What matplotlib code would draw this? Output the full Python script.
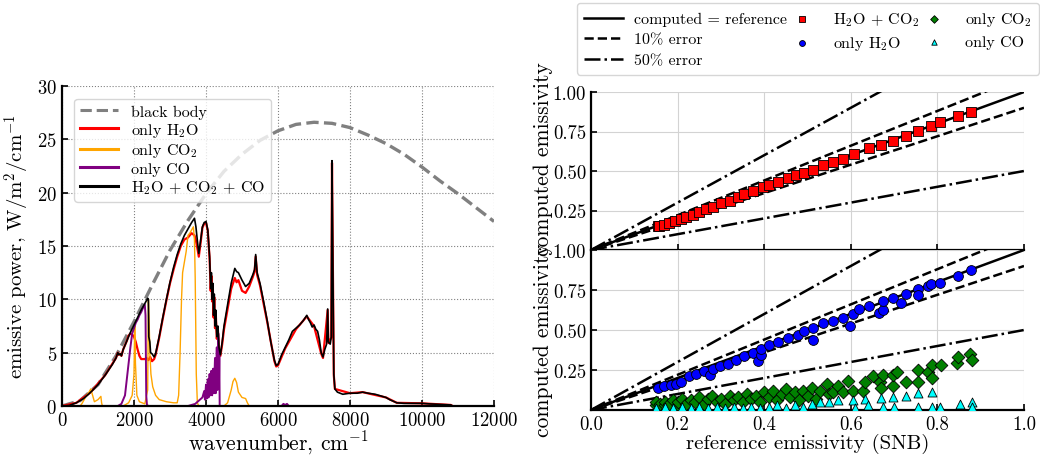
import matplotlib
matplotlib.use('Agg')
import matplotlib.pyplot as plt
import numpy as np

plt.rcParams['font.family'] = 'serif'
plt.rcParams['font.serif'] = ['cmr10']
plt.rcParams['mathtext.fontset'] = 'cm'
plt.rcParams['axes.formatter.use_mathtext'] = True
plt.rcParams['axes.unicode_minus'] = False

# --- left panel: spectra ---
WN_BB = [0, 500, 1000, 1500, 2000, 2500, 3000, 3500, 4000, 4500, 5000, 5500, 6000,
         6500, 7000, 7500, 8000, 8500, 9000, 9500, 10000, 10500, 11000, 11500, 12000]
BLACK_BODY = [0, 0.5, 2.0, 4.7, 7.9, 11.3, 14.6, 17.4, 19.9, 22.0, 23.6, 24.9, 25.8,
              26.4, 26.6, 26.5, 26.1, 25.4, 24.6, 23.6, 22.4, 21.1, 19.9, 18.6, 17.3]

WN_TOT = [0, 200, 400, 600, 800, 1000, 1200, 1400, 1500, 1550, 1580, 1620, 1650, 1700,
          1800, 1900, 2000, 2100, 2200, 2300, 2380, 2400, 2410, 2440, 2460, 2500, 2560,
          2600, 2700, 2800, 2900, 3000, 3100, 3200, 3300, 3400, 3500, 3600, 3680, 3720,
          3760, 3800, 3850, 3900, 3950, 4000, 4050, 4100, 4130, 4150, 4170, 4190, 4210,
          4230, 4250, 4270, 4300, 4330, 4360, 4400, 4450, 4500, 4600, 4700, 4800, 4850,
          4900, 5000, 5100, 5200, 5300, 5350, 5380, 5420, 5500, 5600, 5700, 5800, 5900,
          5950, 6000, 6100, 6200, 6300, 6400, 6500, 6600, 6700, 6800, 6850, 6900, 6950,
          7000, 7050, 7100, 7150, 7200, 7250, 7300, 7350, 7380, 7400, 7450, 7480, 7500,
          7520, 7550, 7580, 7650, 7800, 8000, 8200, 8350, 8500, 8700, 8800, 9000, 9100,
          9300, 9500, 9800, 10000, 10200, 10500, 10800, 10850]
TOTAL = [0, 0.05, 0.3, 0.7, 1.3, 2.0, 2.9, 3.9, 4.5, 5.0, 4.8, 4.9, 4.7, 5.3,
         6.1, 6.9, 7.6, 8.3, 9.0, 9.6, 10.1, 10.0, 6.5, 6.0, 5.0, 4.9, 4.6,
         4.9, 6.5, 8.3, 10.0, 11.6, 13.0, 14.2, 15.2, 16.0, 16.6, 17.2, 17.6, 16.8,
         15.5, 14.3, 15.5, 16.8, 17.2, 17.3, 16.5, 14.0, 11.0, 12.5, 10.0, 11.5, 8.5,
         10.5, 7.5, 9.0, 6.5, 7.5, 5.5, 4.8, 6.0, 7.5, 9.5, 11.5, 12.9, 12.6,
         12.5, 11.8, 11.2, 11.5, 12.3, 12.8, 14.2, 12.5, 11.5, 9.8, 8.0, 6.0, 4.3,
         3.8, 3.9, 4.8, 5.5, 6.2, 7.0, 7.3, 7.6, 8.0, 8.5, 8.1, 7.8, 7.4,
         7.6, 7.2, 7.0, 6.2, 5.0, 4.6, 5.3, 5.8, 9.1, 6.0, 5.8, 6.5, 23.0,
         15.0, 3.0, 1.6, 1.3, 1.1, 1.2, 1.2, 1.3, 1.2, 1.1, 1.0, 0.8, 0.6,
         0.3, 0.25, 0.25, 0.25, 0.2, 0.15, 0.1, 0.0]

WN_H2O = [0, 400, 800, 1200, 1500, 1550, 1580, 1620, 1650, 1700, 1800, 1850, 1900, 1950,
          2000, 2050, 2100, 2150, 2200, 2300, 2350, 2400, 2450, 2500, 2560, 2600, 2700,
          2800, 2900, 3000, 3100, 3200, 3300, 3400, 3500, 3600, 3680, 3720, 3760, 3800,
          3850, 3900, 3950, 4000, 4050, 4100, 4130, 4150, 4170, 4190, 4210, 4230, 4250,
          4270, 4300, 4330, 4360, 4400, 4450, 4500, 4600, 4700, 4800, 4850, 4900, 5000,
          5100, 5200, 5300, 5350, 5380, 5420, 5500, 5700, 5900, 5950, 6000, 6200, 6500,
          6800, 7000, 7200, 7250, 7380, 7400, 7480, 7500, 7520, 7550, 7580, 8000, 8350,
          9000, 9300, 10000, 10800, 10850]
H2O = [0, 0.3, 1.3, 2.9, 4.5, 5.0, 4.8, 4.9, 4.7, 5.3, 6.1, 6.6, 6.8, 6.7,
       6.5, 6.0, 5.3, 4.7, 4.4, 4.4, 4.5, 4.3, 4.6, 4.2, 4.4, 4.8, 6.4,
       8.2, 9.9, 11.5, 12.8, 14.0, 15.0, 15.6, 15.8, 16.2, 16.0, 15.5, 14.8, 14.0,
       15.3, 16.7, 17.1, 17.2, 16.4, 13.8, 10.8, 12.2, 9.8, 11.2, 8.3, 10.2, 7.3,
       8.8, 6.3, 7.2, 5.4, 4.7, 5.8, 7.2, 9.1, 11.0, 12.0, 11.6, 11.8, 10.8,
       10.6, 11.2, 12.1, 12.6, 14.0, 12.3, 11.3, 7.9, 4.2, 3.7, 3.8, 5.4, 7.2,
       8.4, 7.5, 4.9, 4.5, 9.0, 5.9, 6.4, 22.8, 14.8, 2.9, 1.6, 1.2, 1.3,
       0.8, 0.3, 0.25, 0.1, 0.0]

WN_CO2 = [0, 500, 550, 650, 750, 800, 850, 900, 1000, 1080, 1100, 1120, 1700, 1850,
          1950, 2000, 2020, 2040, 2080, 2150, 2300, 2380, 2400, 2420, 2440, 2470, 2520,
          2600, 2700, 2900, 3100, 3200, 3240, 3280, 3320, 3350, 3400, 3450, 3500, 3550,
          3600, 3650, 3680, 3700, 3730, 3760, 3800, 4500, 4600, 4700, 4750, 4800, 4850,
          4900, 5000, 5100, 5150, 5200, 5300]
CO2 = [0, 0, 0.2, 0.8, 1.3, 1.6, 1.0, 0.4, 0.6, 0.9, 0.3, 0.0, 0, 0.3,
       1.0, 3.0, 7.5, 4.0, 1.0, 0.4, 0.2, 1.5, 10.0, 8.0, 5.0, 3.0, 1.8,
       1.0, 0.6, 0.4, 0.3, 0.3, 1.0, 5.0, 10.0, 12.5, 13.5, 14.5, 16.0, 16.2,
       16.5, 16.8, 15.5, 12.0, 3.0, 0.3, 0, 0, 0.3, 1.5, 2.3, 2.6, 2.2,
       1.3, 0.8, 0.7, 0.3, 0, 0]

WN_CO = [0, 1550, 1650, 1750, 1800, 1850, 1900, 1950, 2000, 2050, 2100, 2150, 2200,
         2250, 2300, 2320, 2340, 2360, 2400, 3500, 3600, 3700, 3800, 3900, 3950, 3970,
         4000, 4020, 4050, 4070, 4100, 4120, 4150, 4170, 4200, 4220, 4250, 4270, 4300,
         4320, 4340, 4360, 4370, 4380, 6100, 6150, 6200, 6250, 6300]
CO = [0, 0, 0.2, 1.0, 2.5, 4.0, 5.5, 6.8, 7.3, 7.8, 8.1, 8.5, 8.8,
      9.2, 9.5, 8.5, 1.0, 0.1, 0, 0, 0.1, 0.2, 0.5, 0.8, 1.4, 0.6,
      2.0, 0.7, 2.5, 0.8, 3.0, 1.0, 3.3, 1.0, 3.5, 1.2, 4.5, 1.2, 5.5,
      1.5, 6.8, 2.0, 5.0, 0.0, 0, 0.2, 0.1, 0.2, 0]

# --- right panels: emissivities ---
REF_MIX = [0.154, 0.158, 0.169, 0.181, 0.193, 0.208, 0.22, 0.235, 0.25, 0.266, 0.281,
           0.30, 0.32, 0.339, 0.354, 0.374, 0.397, 0.412, 0.431, 0.455, 0.474, 0.493,
           0.512, 0.535, 0.559, 0.582, 0.607, 0.643, 0.67, 0.697, 0.727, 0.755, 0.786,
           0.807, 0.847, 0.877]
COMP_MIX = [0.151, 0.151, 0.161, 0.174, 0.185, 0.199, 0.21, 0.224, 0.241, 0.258, 0.275,
            0.296, 0.312, 0.333, 0.354, 0.375, 0.398, 0.409, 0.43, 0.455, 0.472, 0.488,
            0.509, 0.535, 0.556, 0.577, 0.606, 0.644, 0.667, 0.692, 0.723, 0.755, 0.786,
            0.807, 0.849, 0.874]

REF_H2O = [0.154, 0.169, 0.185, 0.196, 0.208, 0.227, 0.243, 0.262, 0.275, 0.281, 0.297,
           0.316, 0.335, 0.354, 0.374, 0.385, 0.393, 0.393, 0.412, 0.431, 0.455, 0.478,
           0.493, 0.512, 0.512, 0.535, 0.559, 0.582, 0.597, 0.605, 0.62, 0.643, 0.664,
           0.674, 0.674, 0.697, 0.716, 0.727, 0.755, 0.755, 0.778, 0.786, 0.807, 0.847,
           0.877]
COMP_H2O = [0.137, 0.149, 0.158, 0.164, 0.174, 0.212, 0.227, 0.242, 0.221, 0.258, 0.275,
            0.29, 0.311, 0.338, 0.359, 0.305, 0.342, 0.384, 0.409, 0.426, 0.452, 0.468,
            0.494, 0.515, 0.437, 0.542, 0.557, 0.578, 0.527, 0.599, 0.632, 0.647, 0.605,
            0.626, 0.679, 0.70, 0.668, 0.725, 0.758, 0.72, 0.777, 0.788, 0.794, 0.84,
            0.874]

REF_CO2 = [0.15, 0.15, 0.16, 0.17, 0.17, 0.18, 0.19, 0.2, 0.2, 0.21, 0.22, 0.23, 0.24,
           0.25, 0.26, 0.27, 0.28, 0.29, 0.3, 0.31, 0.32, 0.33, 0.34, 0.35, 0.36, 0.37,
           0.38, 0.39, 0.4, 0.41, 0.42, 0.43, 0.44, 0.45, 0.46, 0.47, 0.48, 0.49, 0.5,
           0.51, 0.52, 0.53, 0.544, 0.55, 0.559, 0.57, 0.582, 0.594, 0.605, 0.628, 0.633,
           0.652, 0.667, 0.669, 0.675, 0.697, 0.698, 0.707, 0.727, 0.755, 0.755, 0.779,
           0.787, 0.787, 0.808, 0.845, 0.848, 0.875, 0.879]
COMP_CO2 = [0.03, 0.05, 0.04, 0.03, 0.05, 0.04, 0.06, 0.03, 0.05, 0.07, 0.04, 0.06, 0.05,
            0.08, 0.04, 0.07, 0.09, 0.05, 0.07, 0.04, 0.09, 0.06, 0.08, 0.05, 0.1, 0.07,
            0.09, 0.05, 0.11, 0.08, 0.12, 0.06, 0.1, 0.13, 0.08, 0.11, 0.06, 0.12, 0.09,
            0.14, 0.07, 0.12, 0.162, 0.1, 0.112, 0.15, 0.112, 0.183, 0.121, 0.121, 0.175,
            0.215, 0.177, 0.137, 0.219, 0.15, 0.219, 0.24, 0.177, 0.252, 0.177, 0.237,
            0.281, 0.20, 0.281, 0.294, 0.33, 0.35, 0.314]

REF_CO = [0.15, 0.17, 0.19, 0.21, 0.23, 0.25, 0.27, 0.29, 0.31, 0.33, 0.35, 0.37, 0.39,
          0.41, 0.43, 0.45, 0.47, 0.49, 0.51, 0.53, 0.55, 0.57, 0.605, 0.61, 0.633, 0.64,
          0.669, 0.675, 0.697, 0.70, 0.727, 0.755, 0.755, 0.787, 0.787, 0.806, 0.852,
          0.879, 0.879]
COMP_CO = [0.01, 0.02, 0.01, 0.02, 0.01, 0.02, 0.01, 0.02, 0.01, 0.02, 0.015, 0.02, 0.01,
           0.02, 0.03, 0.01, 0.03, 0.02, 0.04, 0.05, 0.05, 0.06, 0.06, 0.01, 0.07, 0.03,
           0.075, 0.02, 0.083, 0.02, 0.09, 0.105, 0.02, 0.11, 0.02, 0.018, 0.037,
           0.048, 0.02]

ERROR_FACTORS = [1.0, 1.1, 0.9, 1.5, 0.5]

W, H = 1040, 456
fig = plt.figure(figsize=(W / 100, H / 100), dpi=100)


def px(x0, y0, x1, y1):
    return [x0 / W, 1 - y1 / H, (x1 - x0) / W, (y1 - y0) / H]


def style_axes(ax):
    for side in ['top', 'right']:
        ax.spines[side].set_visible(False)
    for side in ['left', 'bottom']:
        ax.spines[side].set_linewidth(1.6)
    ax.tick_params(direction='in', length=4, width=1.2, labelsize=13.5)


# left panel
ax = fig.add_axes(px(62, 87, 494, 407))
ax.plot(WN_BB, BLACK_BODY, '--', color='gray', lw=2.4, label='black body')
ax.plot(WN_H2O, H2O, color='red', lw=1.6, label=r'only H$_2$O')
ax.plot(WN_CO2, CO2, color='orange', lw=1.0, label=r'only CO$_2$')
ax.plot(WN_CO, CO, color='purple', lw=1.4, label='only CO')
ax.plot(WN_TOT, TOTAL, color='black', lw=1.2, label=r'H$_2$O + CO$_2$ + CO')
ax.set_xlim(0, 12000)
ax.set_ylim(0, 30)
ax.set_xticks(np.arange(0, 12001, 2000))
ax.set_yticks(np.arange(0, 31, 5))
ax.grid(True, linestyle=':', color='gray', lw=0.8)
style_axes(ax)
ax.set_xlabel(r'wavenumber, cm$^{-1}$', fontsize=15.5, labelpad=0)
ax.set_ylabel(r'emissive power, W/m$^2$/cm$^{-1}$', fontsize=15, labelpad=4)
leg = ax.legend(loc='upper left', fontsize=11.5, handlelength=2.4, labelspacing=0.15,
                borderpad=0.35, handletextpad=0.8, bbox_to_anchor=(0.01, 0.985))
for line in leg.get_lines():
    line.set_linewidth(2.2)

# right panels
ax1 = fig.add_axes(px(591, 93, 1024, 251))
ax2 = fig.add_axes(px(591, 251, 1024, 411))
line_styles = ['-', '--', '--', '-.', '-.']
line_labels = ['computed = reference', '10% error', None, '50% error', None]
xs = np.array([0.0, 1.0])
for a in (ax1, ax2):
    for f, ls, lab in zip(ERROR_FACTORS, line_styles, line_labels):
        a.plot(xs, f * xs, ls, color='black', lw=1.8, label=lab)
    a.set_xlim(0, 1)
    a.set_ylim(0, 1)
    a.set_xticks(np.arange(0, 1.01, 0.2))
    a.set_yticks([0.25, 0.5, 0.75, 1.0])
    a.set_yticklabels(['0.25', '0.50', '0.75', '1.00'])
    a.grid(True, color='lightgray', lw=0.8)
    a.set_axisbelow(True)
    style_axes(a)
    a.set_ylabel('computed emissivity', fontsize=15.5)

ax1.yaxis.set_label_coords(-0.087, 0.58)
ax2.yaxis.set_label_coords(-0.087, 0.44)

ax1.scatter(REF_MIX, COMP_MIX, marker='s', s=42, color='red', edgecolor='black',
            linewidth=0.6, zorder=3, label=r'H$_2$O + CO$_2$')
ax1.tick_params(labelbottom=False)

ax2.scatter(REF_H2O, COMP_H2O, marker='o', s=50, color='blue', edgecolor='black',
            linewidth=0.6, zorder=3, label=r'only H$_2$O')
ax2.scatter(REF_CO2, COMP_CO2, marker='D', s=42, color='green', edgecolor='black',
            linewidth=0.6, zorder=3, label=r'only CO$_2$')
ax2.scatter(REF_CO, COMP_CO, marker='^', s=42, color='cyan', edgecolor='black',
            linewidth=0.6, zorder=3, label='only CO')
ax2.set_xticklabels(['0.0', '0.2', '0.4', '0.6', '0.8', '1.0'])
ax2.set_xlabel('reference emissivity (SNB)', fontsize=15, labelpad=0)

h1, l1 = ax1.get_legend_handles_labels()
h2, l2 = ax2.get_legend_handles_labels()
handles = h1[:3] + [h1[3], h2[3], h2[4], h2[5]]
labels = l1[:3] + [l1[3], l2[3], l2[4], l2[5]]
fig.legend(handles, labels, loc='upper left', ncol=3, fontsize=11.5,
           bbox_to_anchor=(577 / W, 1 - 4 / H), borderaxespad=0, markerscale=0.6,
           handlelength=2.4, handletextpad=0.75, labelspacing=0.4,
           columnspacing=-0.3, borderpad=0.45)

fig.savefig('out.png', dpi=100)
